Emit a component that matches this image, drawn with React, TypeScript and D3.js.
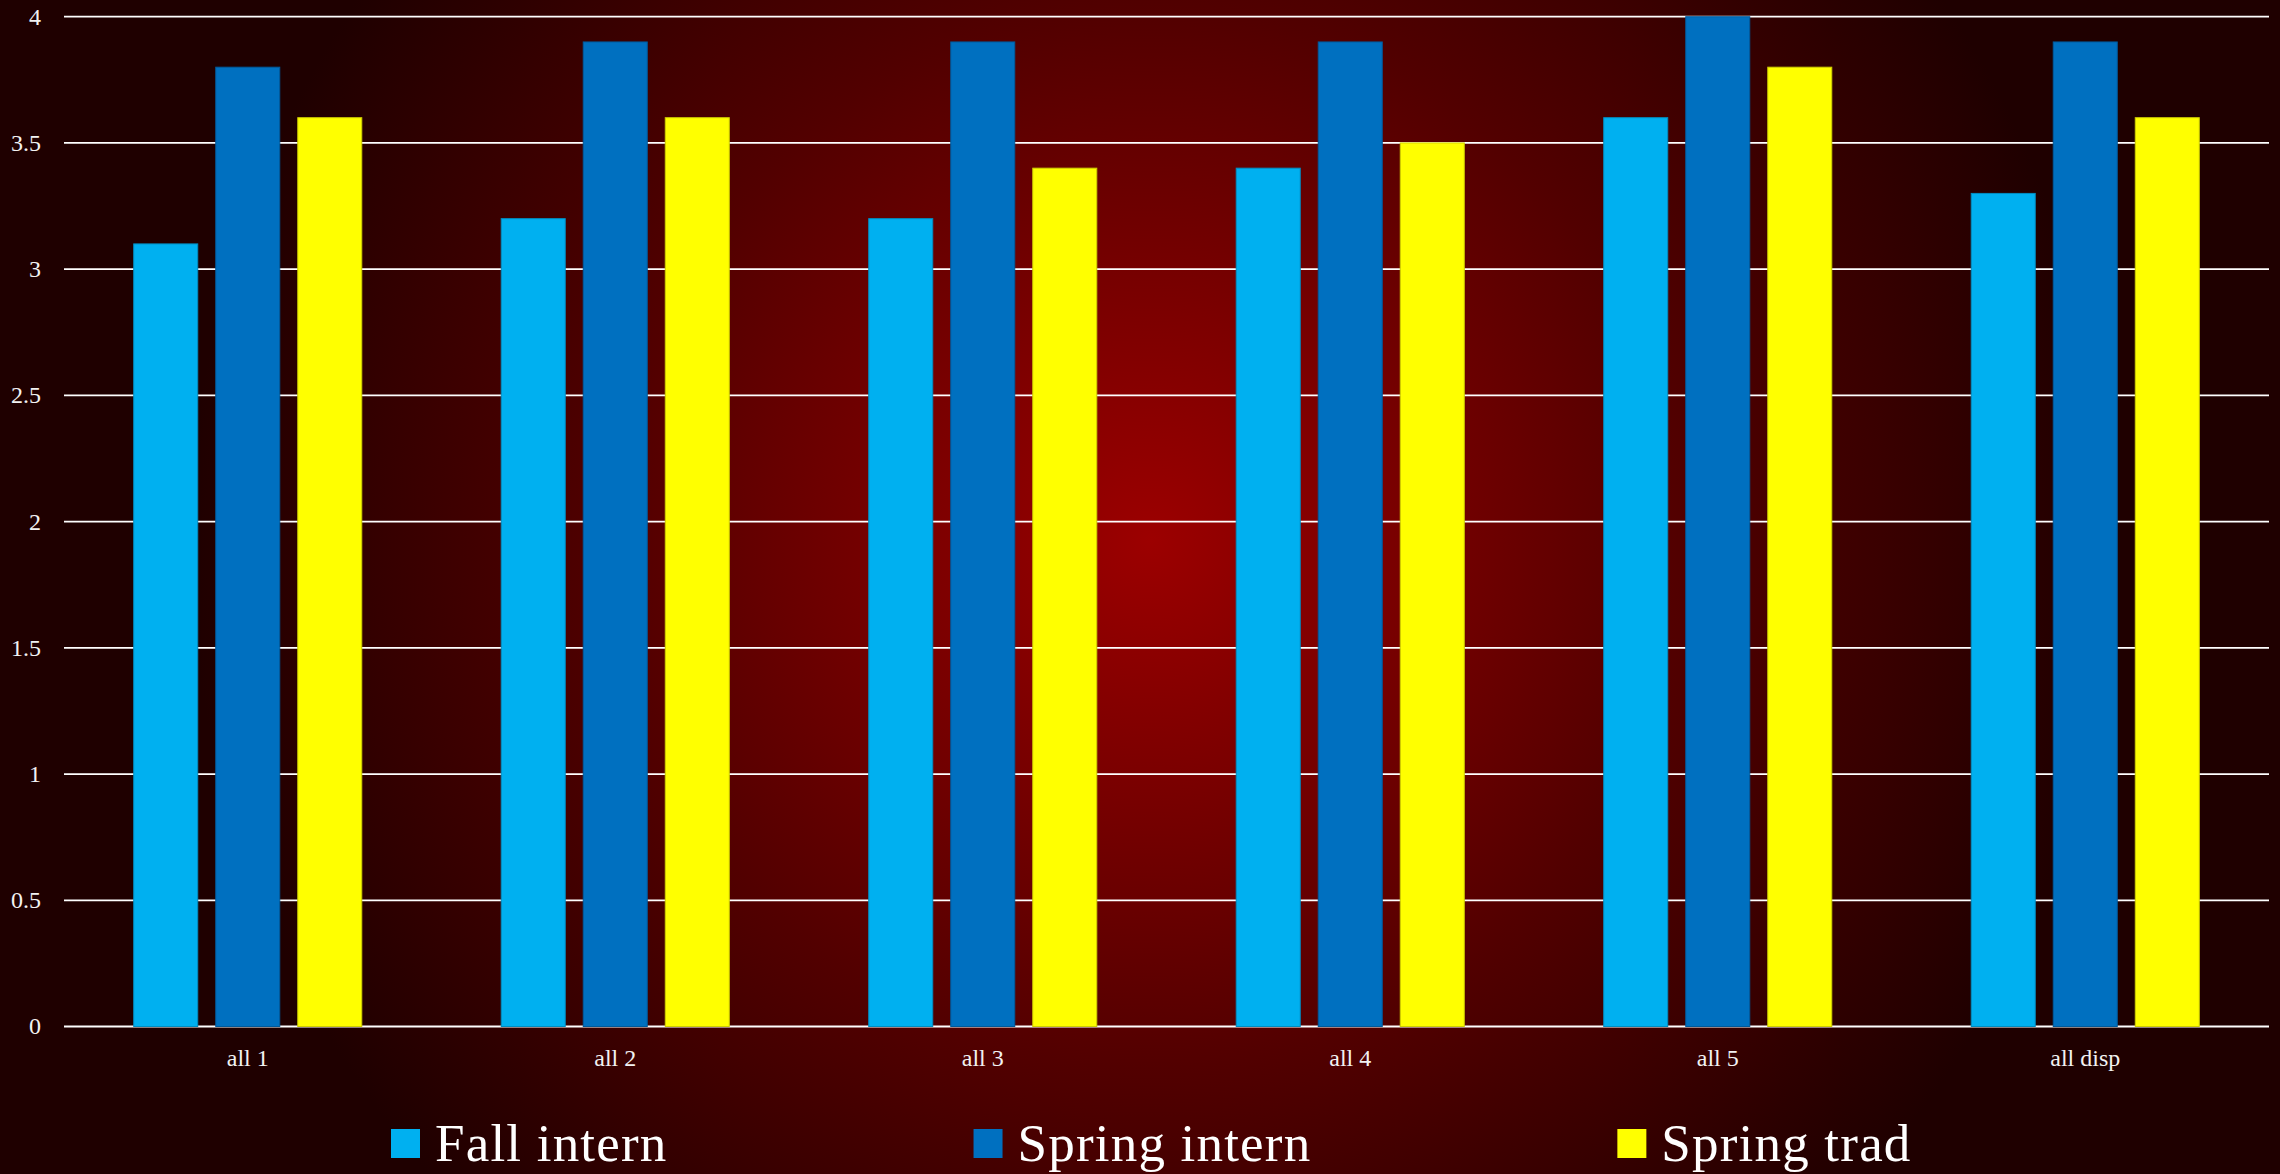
import React, { useLayoutEffect, useRef } from "react";
import * as d3 from "d3";

// Categories along the x axis
const categories = ["all 1", "all 2", "all 3", "all 4", "all 5", "all disp"];

// Series names and their values per category
const seriesNames = ["Fall intern", "Spring intern", "Spring trad"];
const fallIntern = [3.1, 3.2, 3.2, 3.4, 3.6, 3.3];
const springIntern = [3.8, 3.9, 3.9, 3.9, 4.0, 3.9];
const springTrad = [3.6, 3.6, 3.4, 3.5, 3.8, 3.6];
const seriesColors = ["#00B0F0", "#0070C0", "#FFFF00"];

// Value axis
const yTicks = [0, 0.5, 1, 1.5, 2, 2.5, 3, 3.5, 4];

const W = 2280;
const H = 1174;
const plot = { left: 64, right: 2269, top: 16.7, bottom: 1026.5 };
const FONT = "'Liberation Serif', 'DejaVu Serif', serif";

export default function App() {
  const legendRef = useRef<SVGGElement | null>(null);

  const seriesValues = [fallIntern, springIntern, springTrad];

  const x0 = d3
    .scaleBand<string>()
    .domain(categories)
    .range([plot.left, plot.right])
    .paddingInner(0)
    .paddingOuter(0);

  const x1 = d3
    .scaleBand<string>()
    .domain(seriesNames)
    .range([0, x0.bandwidth()])
    .paddingInner(0.2195)
    .paddingOuter(0.85);

  const y = d3.scaleLinear().domain([0, 4]).range([plot.bottom, plot.top]);

  useLayoutEffect(() => {
    document.body.style.margin = "0";
    const g = legendRef.current;
    if (!g) return;
    // Lay legend entries out left to right from their measured text widths
    const items = d3.select(g).selectAll<SVGGElement, unknown>("g.legend-item");
    let cursor = 391;
    items.each(function () {
      const item = d3.select(this);
      item.attr("transform", `translate(${cursor},0)`);
      const t = item.select<SVGTextElement>("text").node();
      const w = t ? t.getComputedTextLength() : 0;
      cursor += 44 + w + 306;
    });
  }, []);

  return (
    <svg
      width={W}
      height={H}
      style={{ position: "absolute", left: 0, top: 0, display: "block" }}
    >
      <defs>
        <radialGradient
          id="bg"
          gradientUnits="userSpaceOnUse"
          cx={1150}
          cy={540}
          r={960}
        >
          <stop offset="0" stopColor="#9c0000" />
          <stop offset="0.55" stopColor="#520000" />
          <stop offset="1" stopColor="#1f0000" />
        </radialGradient>
      </defs>
      <rect x={0} y={0} width={W} height={H} fill="#1f0000" />
      <rect x={0} y={0} width={W} height={H} fill="url(#bg)" />

      {/* Horizontal gridlines */}
      <g>
        {yTicks.map((t) => (
          <line
            key={t}
            x1={plot.left}
            x2={plot.right}
            y1={y(t)}
            y2={y(t)}
            stroke="#ffffff"
            strokeWidth={1.8}
          />
        ))}
      </g>

      {/* Y tick labels */}
      <g fontFamily={FONT} fontSize={24} fill="#f2f2f2">
        {yTicks.map((t) => (
          <text key={t} x={41} y={y(t)} textAnchor="end" dy="0.33em">
            {String(t)}
          </text>
        ))}
      </g>

      {/* Bars */}
      <g>
        {categories.map((c, ci) => (
          <g key={c} transform={`translate(${x0(c)},0)`}>
            {seriesNames.map((s, si) => {
              const v = seriesValues[si][ci];
              const color = seriesColors[si];
              return (
                <rect
                  key={s}
                  x={x1(s)}
                  y={y(v)}
                  width={x1.bandwidth()}
                  height={y(0) - y(v)}
                  fill={color}
                  stroke={d3.color(color)!.darker(0.6).formatHex()}
                  strokeWidth={1}
                />
              );
            })}
          </g>
        ))}
      </g>

      {/* X category labels */}
      <g fontFamily={FONT} fontSize={24} fill="#f2f2f2">
        {categories.map((c) => (
          <text
            key={c}
            x={(x0(c) as number) + x0.bandwidth() / 2}
            y={1066}
            textAnchor="middle"
          >
            {c}
          </text>
        ))}
      </g>

      {/* Legend */}
      <g ref={legendRef} fontFamily={FONT} fontSize={53} fill="#ffffff">
        {seriesNames.map((s, si) => (
          <g key={s} className="legend-item">
            <rect x={0} y={1129} width={29} height={29} fill={seriesColors[si]} />
            <text x={44} y={1161} letterSpacing={1.2}>
              {s}
            </text>
          </g>
        ))}
      </g>
    </svg>
  );
}
